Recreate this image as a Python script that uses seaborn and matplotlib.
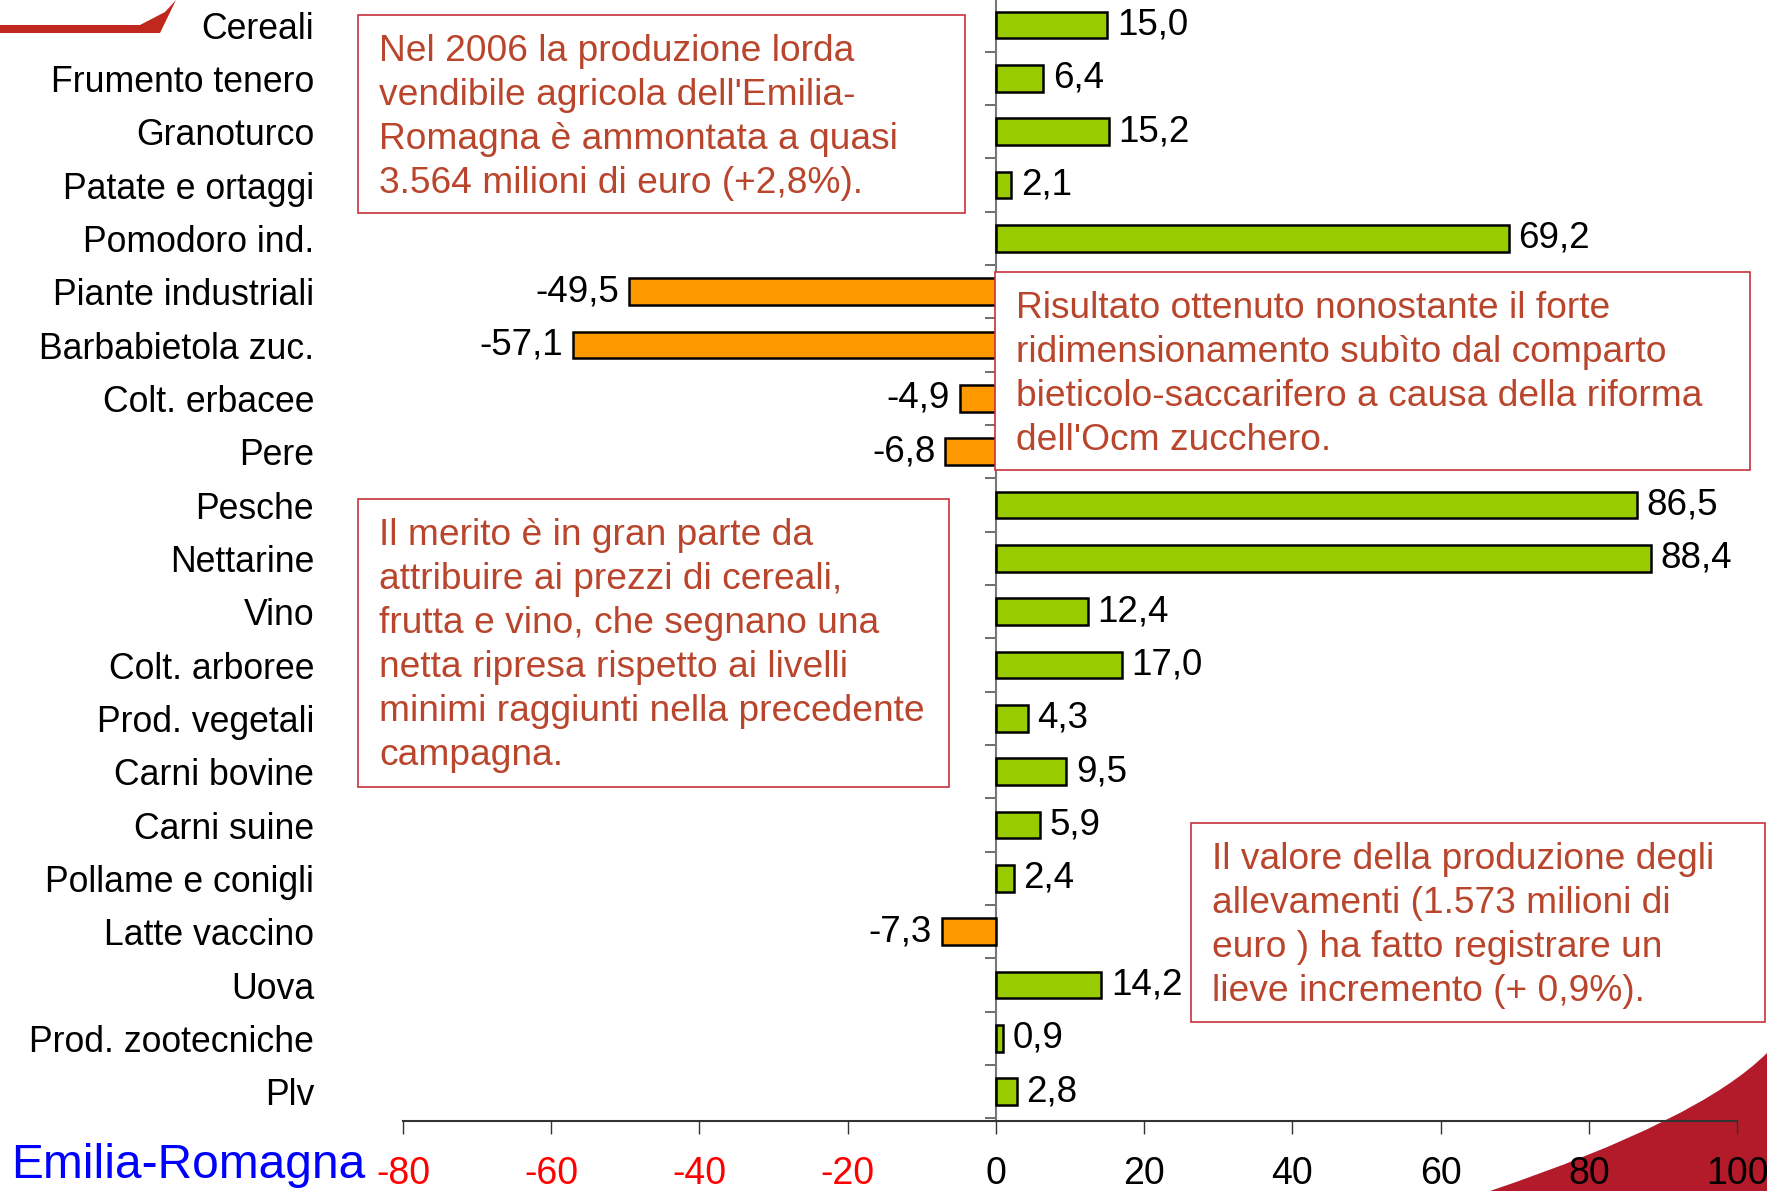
import numpy as np
import pandas as pd
import seaborn as sns
import matplotlib.pyplot as plt
from matplotlib.patches import Rectangle, PathPatch, Polygon
from matplotlib.path import Path

# Variazione % dei prezzi - Emilia-Romagna 2006
categories = ['Cereali', 'Frumento tenero', 'Granoturco', 'Patate e ortaggi', 'Pomodoro ind.',
              'Piante industriali', 'Barbabietola zuc.', 'Colt. erbacee', 'Pere', 'Pesche',
              'Nettarine', 'Vino', 'Colt. arboree', 'Prod. vegetali', 'Carni bovine',
              'Carni suine', 'Pollame e conigli', 'Latte vaccino', 'Uova', 'Prod. zootecniche', 'Plv']
values = [15.0, 6.4, 15.2, 2.1, 69.2, -49.5, -57.1, -4.9, -6.8, 86.5,
          88.4, 12.4, 17.0, 4.3, 9.5, 5.9, 2.4, -7.3, 14.2, 0.9, 2.8]
x_ticks = [-80, -60, -40, -20, 0, 20, 40, 60, 80, 100]

notes = [
    "Nel 2006 la produzione lorda\nvendibile agricola dell'Emilia-\nRomagna è ammontata a quasi\n3.564 milioni di euro (+2,8%).",
    "Risultato ottenuto nonostante il forte\nridimensionamento subìto dal comparto\nbieticolo-saccarifero a causa della riforma\ndell'Ocm zucchero.",
    "Il merito è in gran parte da\nattribuire ai prezzi di cereali,\nfrutta e vino, che segnano una\nnetta ripresa rispetto ai livelli\nminimi raggiunti nella precedente\ncampagna.",
    "Il valore della produzione degli\nallevamenti (1.573 milioni di\neuro ) ha fatto registrare un\nlieve incremento (+ 0,9%).",
]

df = pd.DataFrame({'categoria': categories, 'variazione': values})
df['segno'] = np.where(df['variazione'] >= 0, 'pos', 'neg')

sns.set_theme(style='white')
plt.rcParams['font.family'] = ['Liberation Sans', 'DejaVu Sans']

W, H = 1767, 1191
fig = plt.figure(figsize=(W / 100, H / 100), dpi=100)
ax = fig.add_axes([403 / W, 1 - 1121 / H, (1737 - 403) / W, 1121 / H])
ax.patch.set_visible(False)

palette = {'pos': '#99CC00', 'neg': '#FF9900'}
sns.barplot(data=df, x='variazione', y='categoria', hue='segno', palette=palette,
            orient='h', width=0.5, dodge=False, legend=False, saturation=1,
            edgecolor='black', linewidth=1.8, ax=ax)

for cont in ax.containers:
    labels = [f"{v:.1f}".replace('.', ',') for v in cont.datavalues]
    ax.bar_label(cont, labels=labels, padding=7, fontsize=26.5, color='black')

ax.set_xlim(-80, 100)
ax.set_ylim(len(categories) - 0.45, -0.47)
ax.set_xlabel('')
ax.set_ylabel('')

for s in ['top', 'right', 'left']:
    ax.spines[s].set_visible(False)
ax.spines['bottom'].set_color('#333333')
ax.spines['bottom'].set_linewidth(1.5)

ax.set_xticks(x_ticks)
ax.set_xticklabels([str(t) for t in x_ticks])
ax.tick_params(axis='x', direction='out', length=9.5, width=1.0, color='#333333',
               pad=16, labelsize=27, bottom=True)
for lab, t in zip(ax.get_xticklabels(), x_ticks):
    lab.set_color('red' if t < 0 else 'black')

ax.tick_params(axis='y', length=0, pad=64, labelsize=25.7, labelcolor='black', left=False)

# vertical axis at zero with ticks between categories
sec = ax.secondary_yaxis(80 / 180)
sec.set_yticks(np.arange(len(categories)) + 0.5)
sec.set_yticklabels([])
sec.tick_params(axis='y', direction='out', length=8, width=1.2, color='#555555')
sec.spines['left'].set_color('#777777')
sec.spines['left'].set_linewidth(1.5)
ax.grid(False)


def fx(px):
    return px / W


def fy(py):
    return 1 - py / H


# annotation boxes
boxes = [(358, 15, 965, 213), (995, 272, 1750, 470), (358, 499, 949, 787), (1191, 823, 1765, 1022)]
for (x0, y0, x1, y1), txt in zip(boxes, notes):
    fig.patches.append(Rectangle((fx(x0), fy(y1)), fx(x1 - x0), (y1 - y0) / H,
                                 transform=fig.transFigure, facecolor='white',
                                 edgecolor='#C8323C', linewidth=1.2, zorder=5))
    fig.text(fx(x0 + 21), fy(y0 + 19), txt, ha='left', va='top', fontsize=26.7,
             color='#B8452C', linespacing=1.33, zorder=6)

fig.text(fx(11), fy(1166), 'Emilia-Romagna', ha='left', va='center',
         fontsize=34.5, color='#0000FF')

# decorative red swoosh bottom right
verts = [(fx(1490), fy(1191)), (fx(1700), fy(1120)), (fx(1767), fy(1053)),
         (fx(1767), fy(1191)), (fx(1490), fy(1191))]
codes = [Path.MOVETO, Path.CURVE3, Path.CURVE3, Path.LINETO, Path.CLOSEPOLY]
fig.patches.append(PathPatch(Path(verts, codes), transform=fig.transFigure,
                             facecolor='#B31B2A', edgecolor='none', zorder=-1))

# logo fragment top left
logo = [(fx(0), fy(25)), (fx(140), fy(25)), (fx(165), fy(12)), (fx(176), fy(0)),
        (fx(160), fy(33)), (fx(0), fy(33))]
fig.patches.append(Polygon(logo, closed=True, transform=fig.transFigure,
                           facecolor='#C0281E', edgecolor='none', zorder=-1))

fig.savefig('out.png', dpi=100)
